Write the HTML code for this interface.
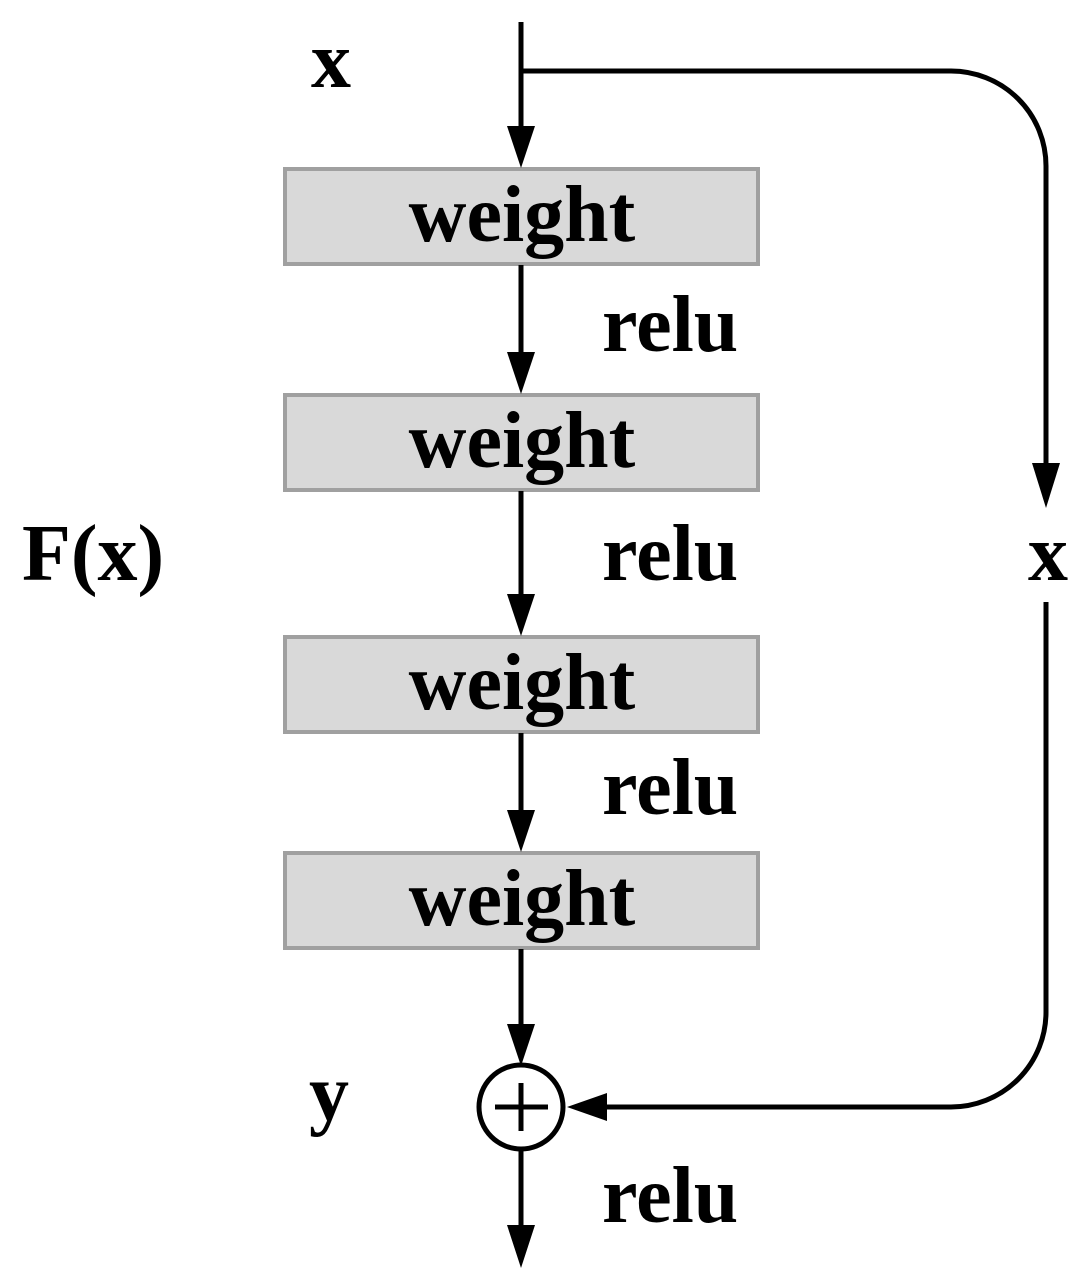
<!DOCTYPE html>
<html><head><style>
body{margin:0;background:#fff}
svg{display:block}
text{font-family:"Liberation Serif",serif;font-weight:bold;font-size:80px;fill:#000}
</style></head><body>
<svg width="1083" height="1274" viewBox="0 0 1083 1274">
<g fill="#d9d9d9" stroke="#a0a0a0" stroke-width="4">
<rect x="285" y="169" width="473" height="95"/>
<rect x="285" y="395" width="473" height="95"/>
<rect x="285" y="637" width="473" height="95"/>
<rect x="285" y="853" width="473" height="95"/>
</g>
<g stroke="#000" stroke-width="5" fill="none">
<line x1="521" y1="22" x2="521" y2="130"/>
<line x1="521" y1="265" x2="521" y2="356"/>
<line x1="521" y1="491" x2="521" y2="598"/>
<line x1="521" y1="733" x2="521" y2="814"/>
<line x1="521" y1="949" x2="521" y2="1030"/>
<line x1="521" y1="1150" x2="521" y2="1228"/>
<path d="M521 71 H951 A95 95 0 0 1 1046 166 V468"/>
<path d="M1046 602 V1012 A95 95 0 0 1 951 1107 H600"/>
<circle cx="521" cy="1107" r="42"/>
<line x1="495" y1="1107" x2="548" y2="1107"/>
<line x1="521" y1="1083" x2="521" y2="1131"/>
</g>
<g fill="#000">
<polygon points="507,126 535,126 521,168"/>
<polygon points="507,352 535,352 521,394"/>
<polygon points="507,594 535,594 521,636"/>
<polygon points="507,810 535,810 521,852"/>
<polygon points="507,1024 535,1024 521,1066"/>
<polygon points="507,1225 535,1225 521,1268"/>
<polygon points="1032,463 1060,463 1046,508"/>
<polygon points="607,1093 607,1121 567,1107"/>
</g>
<g text-anchor="middle">
<text x="522" y="241">weight</text>
<text x="522" y="467">weight</text>
<text x="522" y="709">weight</text>
<text x="522" y="925">weight</text>
</g>
<text x="602" y="351">relu</text>
<text x="602" y="580">relu</text>
<text x="602" y="814">relu</text>
<text x="602" y="1222">relu</text>
<text x="311" y="87">x</text>
<text x="1028" y="580">x</text>
<text x="22" y="580">F(x)</text>
<text x="309" y="1120">y</text>
</svg>
</body></html>
